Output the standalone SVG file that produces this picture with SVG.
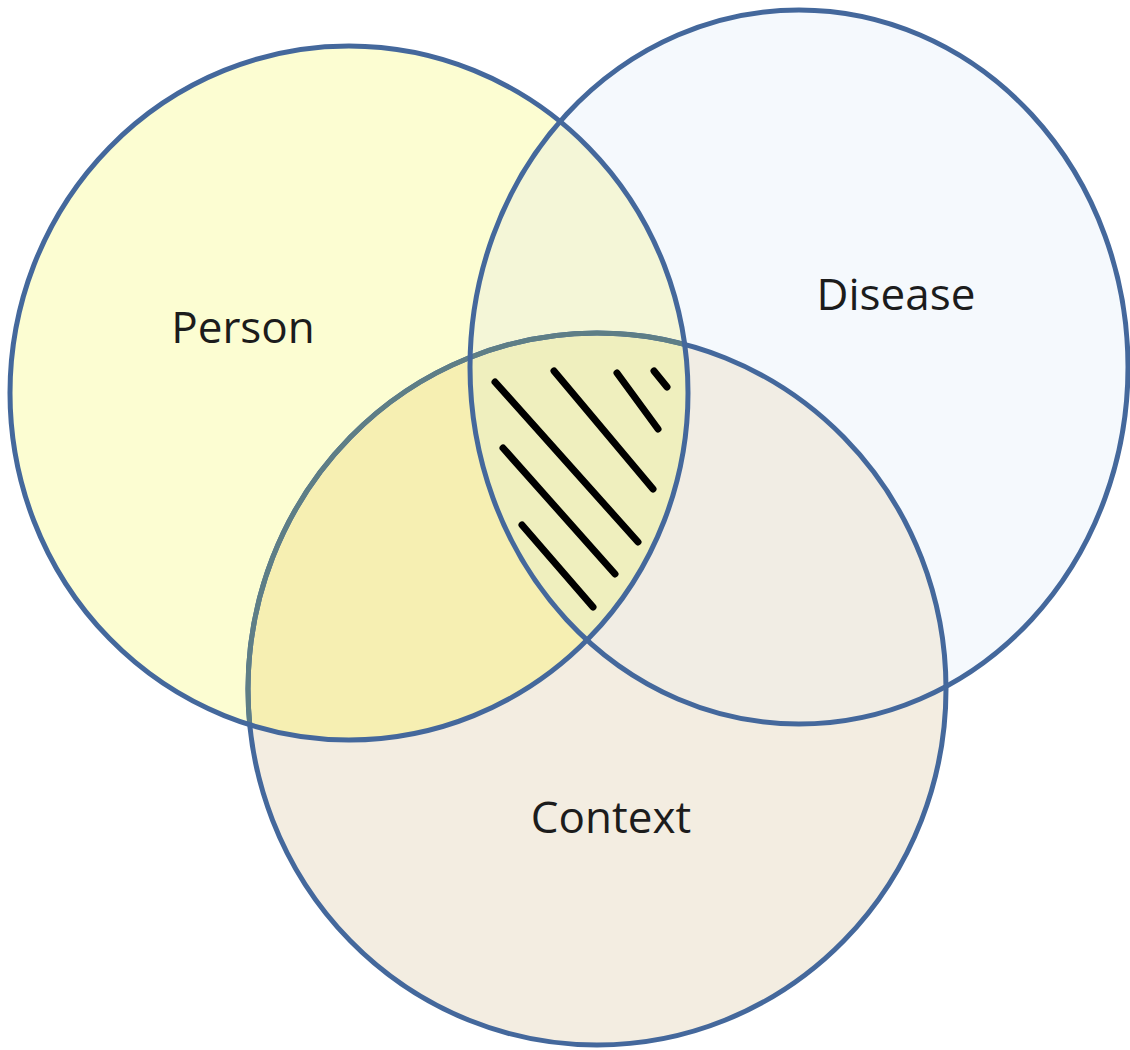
<svg xmlns="http://www.w3.org/2000/svg" width="1130" height="1050" viewBox="0 0 1130 1050">
<style>
.lbl{font-family:"Open Sans","Noto Sans","Liberation Sans",sans-serif;font-size:44px;fill:#1c1c1c;text-anchor:middle}
.ring{fill:none;stroke:#44689c;stroke-width:5}
.hatch{stroke:#000;stroke-width:7;stroke-linecap:round}
</style>
<defs>
<clipPath id="cpP"><ellipse cx="349" cy="393" rx="339" ry="347"/></clipPath>
<clipPath id="cpD"><ellipse cx="799" cy="367" rx="329" ry="357"/></clipPath>
<clipPath id="cpC"><ellipse cx="597" cy="689" rx="349" ry="356"/></clipPath>
</defs>
<rect width="1130" height="1050" fill="#ffffff"/>
<g id="disease-fill"><ellipse cx="799" cy="367" rx="329" ry="357" fill="#f5f9fd"/></g>
<g id="person-fill"><ellipse cx="349" cy="393" rx="339" ry="347" fill="#fcfdd2"/></g>
<g id="context-fill"><ellipse cx="597" cy="689" rx="349" ry="356" fill="#f3ede1"/></g>
<g id="overlaps">
<ellipse cx="799" cy="367" rx="329" ry="357" fill="#f4f6d7" clip-path="url(#cpP)"/>
<ellipse cx="597" cy="689" rx="349" ry="356" fill="#f1ede4" clip-path="url(#cpD)"/>
<ellipse cx="597" cy="689" rx="349" ry="356" fill="#f6efb2" clip-path="url(#cpP)"/>
<g clip-path="url(#cpD)"><ellipse cx="597" cy="689" rx="349" ry="356" fill="#efefbe" clip-path="url(#cpP)"/></g>
</g>
<g id="connectors">
<ellipse class="ring" cx="597" cy="689" rx="349" ry="356"/>
<ellipse class="ring" cx="597" cy="689" rx="349" ry="356" style="stroke:#5e7e86" clip-path="url(#cpP)"/>
<ellipse class="ring" cx="349" cy="393" rx="339" ry="347"/>
<ellipse class="ring" cx="799" cy="367" rx="329" ry="357"/>
</g>
<g id="hatching">
<line class="hatch" x1="495" y1="382" x2="638" y2="542"/>
<line class="hatch" x1="554" y1="371" x2="653" y2="489"/>
<line class="hatch" x1="617" y1="373" x2="658" y2="429"/>
<line class="hatch" x1="654" y1="371" x2="667" y2="387"/>
<line class="hatch" x1="503" y1="448" x2="615" y2="574"/>
<line class="hatch" x1="522" y1="525" x2="593" y2="607"/>
</g>
<g id="person"><text class="lbl" x="243" y="343">Person</text></g>
<g id="disease"><text class="lbl" x="896" y="310">Disease</text></g>
<g id="context"><text class="lbl" x="611" y="833">Context</text></g>
</svg>
